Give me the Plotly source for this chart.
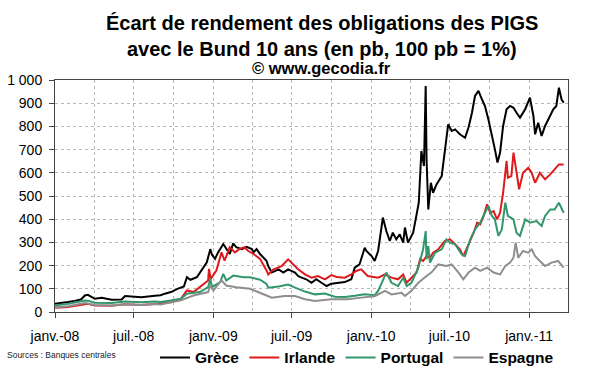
import plotly.graph_objects as go

# ---------------- data (spreads vs Bund 10y, in bp) ----------------
greece_dates = ["2008-01-01","2008-01-15","2008-01-31","2008-02-15","2008-03-01","2008-03-10","2008-03-17","2008-04-02","2008-04-18","2008-05-11","2008-06-03","2008-06-11","2008-06-26","2008-07-19","2008-08-19","2008-09-01","2008-09-11","2008-09-25","2008-10-10","2008-10-25","2008-11-01","2008-11-09","2008-11-24","2008-12-10","2008-12-17","2008-12-25","2008-12-29","2009-01-05","2009-01-12","2009-01-24","2009-01-31","2009-02-08","2009-02-16","2009-02-23","2009-03-08","2009-03-19","2009-03-31","2009-04-04","2009-04-11","2009-04-19","2009-05-04","2009-05-08","2009-05-16","2009-06-01","2009-06-12","2009-06-23","2009-07-09","2009-07-16","2009-07-24","2009-08-04","2009-08-16","2009-08-27","2009-09-08","2009-09-20","2009-10-01","2009-10-16","2009-11-01","2009-11-16","2009-11-24","2009-12-05","2009-12-17","2009-12-21","2010-01-02","2010-01-09","2010-01-17","2010-01-28","2010-02-05","2010-02-13","2010-02-20","2010-02-28","2010-03-08","2010-03-16","2010-03-20","2010-03-27","2010-04-08","2010-04-16","2010-04-21","2010-04-27","2010-05-03","2010-05-07","2010-05-09","2010-05-13","2010-05-19","2010-05-24","2010-06-01","2010-06-13","2010-06-20","2010-06-28","2010-07-06","2010-07-14","2010-07-25","2010-08-06","2010-08-14","2010-08-22","2010-08-29","2010-09-06","2010-09-14","2010-09-21","2010-09-29","2010-10-07","2010-10-14","2010-10-20","2010-10-26","2010-11-02","2010-11-10","2010-11-18","2010-11-26","2010-12-03","2010-12-11","2010-12-23","2011-01-03","2011-01-11","2011-01-15","2011-01-22","2011-01-30","2011-02-07","2011-02-19","2011-02-26","2011-03-05","2011-03-11","2011-03-17","2011-03-22"]
greece_values = [36,38,43,48,54,71,74,57,61,53,54,69,67,64,70,72,79,86,100,110,150,139,150,196,214,271,247,229,257,293,271,250,296,279,271,281,271,257,271,250,221,198,170,184,170,184,170,155,148,141,126,141,126,112,122,126,129,141,191,205,277,263,241,220,263,407,349,306,342,313,335,299,364,299,342,421,471,694,629,974,658,442,557,514,550,586,687,809,780,787,766,751,795,859,931,953,917,888,830,766,701,644,687,802,874,888,880,859,838,874,924,845,766,816,759,802,845,874,888,967,917,902]

ireland_dates = ["2008-01-01","2008-01-31","2008-03-10","2008-03-17","2008-04-02","2008-05-11","2008-06-11","2008-07-19","2008-08-19","2008-09-01","2008-09-25","2008-10-18","2008-11-01","2008-11-16","2008-12-01","2008-12-20","2008-12-22","2008-12-26","2009-01-08","2009-01-20","2009-01-27","2009-02-08","2009-02-20","2009-03-02","2009-03-14","2009-03-22","2009-04-04","2009-04-19","2009-05-04","2009-05-08","2009-05-20","2009-06-08","2009-06-23","2009-07-05","2009-07-16","2009-08-01","2009-08-16","2009-08-31","2009-09-16","2009-10-01","2009-10-13","2009-11-01","2009-11-16","2009-11-27","2009-12-09","2009-12-24","2010-01-09","2010-01-17","2010-02-02","2010-02-17","2010-03-04","2010-03-16","2010-03-24","2010-04-04","2010-04-16","2010-04-24","2010-05-01","2010-05-09","2010-05-17","2010-05-24","2010-06-05","2010-06-20","2010-07-02","2010-07-14","2010-07-25","2010-08-02","2010-08-14","2010-08-26","2010-09-03","2010-09-10","2010-09-18","2010-09-26","2010-10-03","2010-10-11","2010-10-19","2010-10-26","2010-11-02","2010-11-10","2010-11-13","2010-11-21","2010-11-26","2010-12-03","2010-12-09","2010-12-18","2010-12-30","2011-01-07","2011-01-15","2011-01-26","2011-02-07","2011-02-19","2011-03-01","2011-03-11","2011-03-22"]
ireland_values = [18,22,33,35,28,27,33,30,34,36,42,57,93,86,107,136,186,143,179,257,221,279,257,271,279,264,250,229,179,162,184,198,227,205,184,162,148,155,141,159,151,148,162,177,184,155,151,148,162,148,141,162,126,148,170,227,220,241,234,256,270,306,313,292,270,241,292,342,385,378,414,464,428,435,399,428,514,651,579,586,687,600,529,600,622,600,557,600,572,593,615,636,636]

portugal_dates = ["2008-01-01","2008-01-31","2008-03-10","2008-03-17","2008-04-02","2008-05-11","2008-06-11","2008-07-19","2008-08-19","2008-09-01","2008-09-25","2008-10-18","2008-11-01","2008-12-01","2008-12-20","2008-12-25","2008-12-29","2009-01-17","2009-01-24","2009-01-31","2009-02-16","2009-03-12","2009-03-27","2009-04-19","2009-05-04","2009-05-08","2009-06-01","2009-06-23","2009-07-09","2009-08-01","2009-08-24","2009-09-16","2009-10-09","2009-11-01","2009-11-24","2009-12-17","2010-01-09","2010-01-17","2010-02-05","2010-02-17","2010-03-04","2010-03-16","2010-03-24","2010-04-04","2010-04-20","2010-05-01","2010-05-07","2010-05-09","2010-05-13","2010-05-17","2010-05-29","2010-06-13","2010-06-24","2010-07-02","2010-07-14","2010-07-29","2010-08-06","2010-08-14","2010-08-18","2010-08-29","2010-09-10","2010-09-21","2010-09-29","2010-10-07","2010-10-14","2010-10-22","2010-10-30","2010-11-07","2010-11-13","2010-11-26","2010-12-03","2010-12-11","2010-12-23","2011-01-03","2011-01-18","2011-01-30","2011-02-07","2011-02-19","2011-03-01","2011-03-11","2011-03-22"]
portugal_values = [29,35,50,49,40,39,45,42,45,43,50,57,79,86,107,143,107,129,164,136,157,150,150,139,121,105,110,118,105,88,76,80,66,65,70,76,72,91,170,126,112,148,112,126,191,270,349,227,284,213,256,270,313,299,292,249,241,292,313,356,385,428,457,414,399,328,356,471,414,399,342,328,399,385,392,371,414,442,442,471,428]

spain_dates = ["2008-01-01","2008-01-31","2008-03-10","2008-03-17","2008-04-02","2008-05-11","2008-06-11","2008-07-19","2008-08-19","2008-09-01","2008-10-18","2008-11-16","2008-12-20","2008-12-25","2009-01-01","2009-01-20","2009-01-31","2009-02-23","2009-03-27","2009-05-04","2009-05-16","2009-06-15","2009-07-09","2009-08-01","2009-08-24","2009-10-01","2009-11-08","2009-12-09","2010-01-09","2010-02-02","2010-02-17","2010-03-12","2010-03-20","2010-04-04","2010-04-20","2010-05-09","2010-05-20","2010-06-05","2010-06-24","2010-07-06","2010-07-22","2010-08-02","2010-08-14","2010-08-29","2010-09-10","2010-09-26","2010-10-11","2010-10-26","2010-11-07","2010-11-18","2010-11-26","2010-12-01","2010-12-07","2010-12-18","2010-12-30","2011-01-07","2011-01-15","2011-01-26","2011-02-07","2011-02-22","2011-03-09","2011-03-22"]
spain_values = [21,25,39,37,30,28,33,30,34,32,50,71,86,114,93,136,114,107,100,71,62,69,69,55,47,55,55,62,68,91,76,83,69,91,126,155,170,205,198,205,170,141,170,191,177,191,170,162,198,213,234,299,234,263,256,270,241,220,198,213,220,191]

series_names = ["Grèce", "Irlande", "Portugal", "Espagne"]
series_colors = ["#000000", "#de1a1c", "#32966c", "#8e8e8e"]

y_tickvals = [0, 100, 200, 300, 400, 500, 600, 700, 800, 900, 1000]
y_ticktext = ["0", "100", "200", "300", "400", "500", "600", "700", "800", "900", "1 000"]
x_tickvals = ["2008-01-01", "2008-07-01", "2009-01-01", "2009-07-01", "2010-01-01", "2010-07-01", "2011-01-01"]
x_ticktext = ["janv.-08", "juil.-08", "janv.-09", "juil.-09", "janv.-10", "juil.-10", "janv.-11"]
x_gridvals = ["2008-04-01", "2008-10-01", "2009-04-01", "2009-10-01", "2010-04-01", "2010-10-01", "2011-04-01"]

title_lines = ["Écart de rendement des obligations des PIGS",
               "avec le Bund 10 ans (en pb, 100 pb = 1%)",
               "© www.gecodia.fr"]
source_text = "Sources : Banques centrales"

FONT = "Liberation Sans, Arial, sans-serif"

fig = go.Figure()
all_dates = [greece_dates, ireland_dates, portugal_dates, spain_dates]
all_values = [greece_values, ireland_values, portugal_values, spain_values]
for name, color, d, v in zip(series_names, series_colors, all_dates, all_values):
    fig.add_trace(go.Scatter(x=d, y=v, mode="lines", name=name,
                             line=dict(color=color, width=2)))

fig.update_layout(
    width=600, height=372,
    margin=dict(l=55, r=32, t=80, b=60, autoexpand=False),
    paper_bgcolor="white", plot_bgcolor="white",
    font=dict(family=FONT, color="#000000"),
    showlegend=True,
    legend=dict(orientation="h", x=0.195, xanchor="left",
                yref="container", y=0.038, yanchor="middle",
                font=dict(size=15.5, family=FONT, color="#000000", weight="bold"),
                itemwidth=30, bgcolor="rgba(0,0,0,0)"),
)
fig.update_xaxes(
    type="date", range=["2008-01-01", "2011-04-01"],
    tickmode="array", tickvals=x_tickvals, ticktext=x_ticktext,
    ticks="outside", ticklen=5, tickcolor="#444", tickwidth=1,
    showline=True, linecolor="#444", linewidth=1, mirror=True,
    showgrid=True, gridcolor="#b8b8b8", griddash="dot", gridwidth=1,
    minor=dict(tickvals=x_gridvals, showgrid=True, gridcolor="#b8b8b8", griddash="dot", ticks=""),
    tickfont=dict(size=14, family=FONT, color="#000000"),
    ticklabelstandoff=6, zeroline=False,
)
fig.update_yaxes(
    range=[0, 1000], tickmode="array", tickvals=y_tickvals, ticktext=y_ticktext,
    ticks="outside", ticklen=5, tickcolor="#444", tickwidth=1,
    showline=True, linecolor="#444", linewidth=1, mirror=True,
    showgrid=True, gridcolor="#b8b8b8", griddash="dot", gridwidth=1,
    tickfont=dict(size=14, family=FONT, color="#000000"),
    ticklabelstandoff=4, zeroline=False,
)

title_y = [1.247, 1.134, 1.051]
title_size = [20, 20, 16.5]
for txt, yy, sz in zip(title_lines, title_y, title_size):
    fig.add_annotation(text="<b>" + txt + "</b>", xref="paper", yref="paper",
                       x=0.52, y=yy, xanchor="center", yanchor="middle",
                       showarrow=False, font=dict(size=sz, family=FONT, color="#000000"))

fig.add_annotation(text=source_text, xref="paper", yref="paper",
                   x=-0.097, y=-0.185, xanchor="left", yanchor="middle",
                   showarrow=False, font=dict(size=8.5, family=FONT, color="#222222"))

fig.write_html("out.html", config={"displayModeBar": False},
               post_script="document.body.style.margin='0';")
